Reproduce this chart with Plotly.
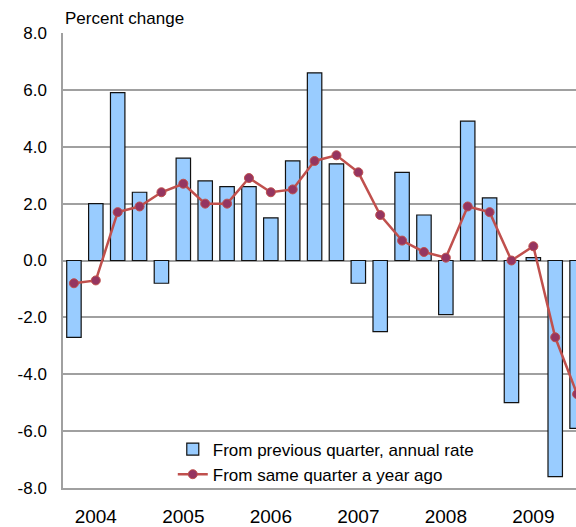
import plotly.graph_objects as go

years = ["2004", "2005", "2006", "2007", "2008", "2009"]
quarters = [f"{y}Q{q}" for y in years for q in range(1, 5)]

prev_quarter = [-2.7, 2.0, 5.9, 2.4,
                -0.8, 3.6, 2.8, 2.6,
                2.6, 1.5, 3.5, 6.6,
                3.4, -0.8, -2.5, 3.1,
                1.6, -1.9, 4.9, 2.2,
                -5.0, 0.1, -7.6, -5.9]

year_ago = [-0.8, -0.7, 1.7, 1.9,
            2.4, 2.7, 2.0, 2.0,
            2.9, 2.4, 2.5, 3.5,
            3.7, 3.1, 1.6, 0.7,
            0.3, 0.1, 1.9, 1.7,
            0.0, 0.5, -2.7, -4.7]

ytick_vals = [-8, -6, -4, -2, 0, 2, 4, 6, 8]
ytick_text = [f"{v:.1f}" for v in ytick_vals]
xtick_vals = [f"{y}Q2" for y in years]

font_family = "Liberation Sans, Arial, sans-serif"

fig = go.Figure()
fig.add_trace(go.Bar(
    x=quarters, y=prev_quarter,
    name="From previous quarter, annual rate",
    marker=dict(color="#99CCFF", line=dict(color="#111111", width=1.2)),
))
fig.add_trace(go.Scatter(
    x=quarters, y=year_ago,
    name="From same quarter a year ago",
    mode="lines+markers",
    line=dict(color="#C0504D", width=2.5),
    marker=dict(color="#953560", size=9, line=dict(color="#C0504D", width=1)),
))

fig.update_layout(
    width=576, height=527,
    margin=dict(l=63, r=0, t=33, b=39),
    paper_bgcolor="white", plot_bgcolor="white",
    font=dict(family=font_family, color="black", size=17),
    bargap=0.34,
    showlegend=True,
    legend=dict(
        x=0.214, xanchor="left", y=-0.01, yanchor="bottom",
        bgcolor="rgba(0,0,0,0)", borderwidth=0,
        font=dict(size=17, family=font_family),
        tracegroupgap=0, itemwidth=30,
    ),
    annotations=[dict(
        text="Percent change", xref="paper", yref="paper",
        x=0, y=1, xanchor="left", yanchor="bottom", yshift=3, xshift=0,
        showarrow=False, font=dict(size=17, family=font_family),
    )],
)

fig.update_xaxes(
    type="category",
    categoryorder="array", categoryarray=quarters,
    range=[-0.5, 22.95],
    tickmode="array", tickvals=xtick_vals, ticktext=years,
    tickfont=dict(size=19),
    ticks="", showgrid=False,
    showline=True, linecolor="#A0A0A0", linewidth=1.5,
    ticklabelstandoff=10, automargin=False,
)
fig.update_yaxes(
    range=[-8, 8],
    tickmode="array", tickvals=ytick_vals, ticktext=ytick_text,
    tickfont=dict(size=17),
    ticks="", showgrid=True, gridcolor="#A0A0A0", gridwidth=1.5,
    zeroline=True, zerolinecolor="#A0A0A0", zerolinewidth=1.5,
    showline=True, linecolor="#A0A0A0", linewidth=1.5,
    ticklabelstandoff=11, automargin=False,
)

fig.write_html(
    "out.html",
    config={"displayModeBar": False},
    post_script="document.body.style.margin='0px';document.body.style.overflow='hidden';",
)
